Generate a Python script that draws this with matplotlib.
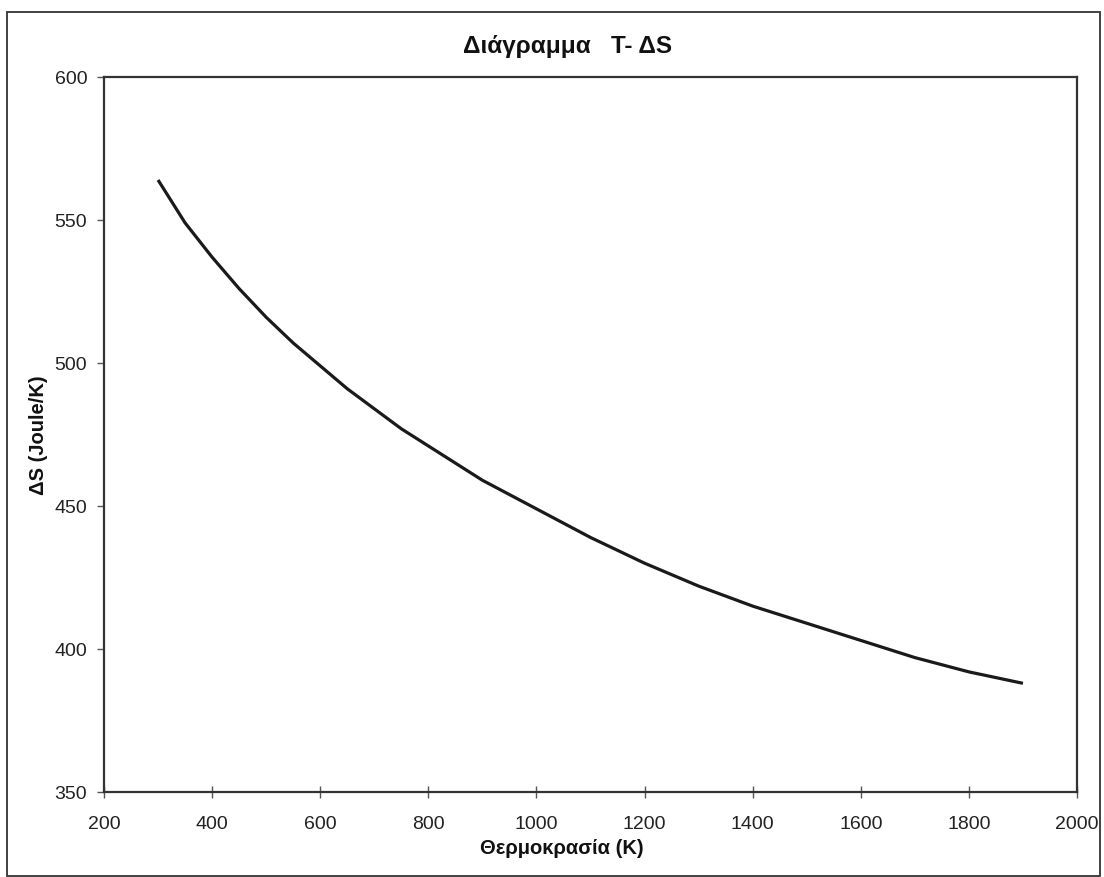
import matplotlib
matplotlib.use("Agg")
import matplotlib.pyplot as plt
from matplotlib.patches import Rectangle

# Data
temperature = [300, 350, 400, 450, 500, 550, 600, 650, 700, 750, 800, 850,
               900, 950, 1000, 1050, 1100, 1150, 1200, 1250, 1300, 1350,
               1400, 1450, 1500, 1550, 1600, 1650, 1700, 1750, 1800, 1850, 1900]
delta_s = [564, 549, 537, 526, 516, 507, 499, 491, 484, 477, 471, 465,
           459, 454, 449, 444, 439, 434.5, 430, 426, 422, 418.5,
           415, 412, 409, 406, 403, 400, 397, 394.5, 392, 390, 388]
x_ticks = [200, 400, 600, 800, 1000, 1200, 1400, 1600, 1800, 2000]
y_ticks = [350, 400, 450, 500, 550, 600]

title = "Διάγραμμα   T- ΔS"
xlabel = "Θερμοκρασία (K)"
ylabel = "ΔS (Joule/K)"

plt.rcParams['font.family'] = ['Liberation Sans', 'DejaVu Sans']

W, H = 1104, 877
fig = plt.figure(figsize=(W / 100, H / 100), dpi=100)
ax = fig.add_axes([104 / W, 1 - 792 / H, (1077 - 104) / W, (792 - 77) / H])

ax.plot(temperature, delta_s, color='#1a1a1a', lw=2.3,
        solid_capstyle='butt', solid_joinstyle='round')

ax.set_xlim(200, 2000)
ax.set_ylim(350, 600)
ax.set_xticks(x_ticks)
ax.set_yticks(y_ticks)
ax.tick_params(axis='x', direction='inout', length=9, width=1, color='#555555',
               labelsize=14, pad=13, labelcolor='#222222')
ax.tick_params(axis='y', direction='out', length=5, width=1, color='#555555',
               labelsize=14, pad=7, labelcolor='#222222')
for sp in ax.spines.values():
    sp.set_linewidth(1.6)
    sp.set_color('#333333')

fig.text(568 / W, 1 - 46 / H, title, ha='center', va='center',
         fontsize=17.5, fontweight='bold', color='#111111')
fig.text(562 / W, 1 - 849 / H, xlabel, ha='center', va='center',
         fontsize=14.5, fontweight='bold', color='#111111')
fig.text(38 / W, 1 - 435 / H, ylabel, ha='center', va='center', rotation=90,
         fontsize=14.5, fontweight='bold', color='#111111')

# outer chart frame
fig.patches.append(Rectangle((7 / W, 1 - 876 / H), (1100 - 7) / W, (876 - 12) / H,
                             transform=fig.transFigure, fill=False,
                             edgecolor='#333333', lw=1.3))

fig.savefig('out.png', dpi=100, facecolor='white')
